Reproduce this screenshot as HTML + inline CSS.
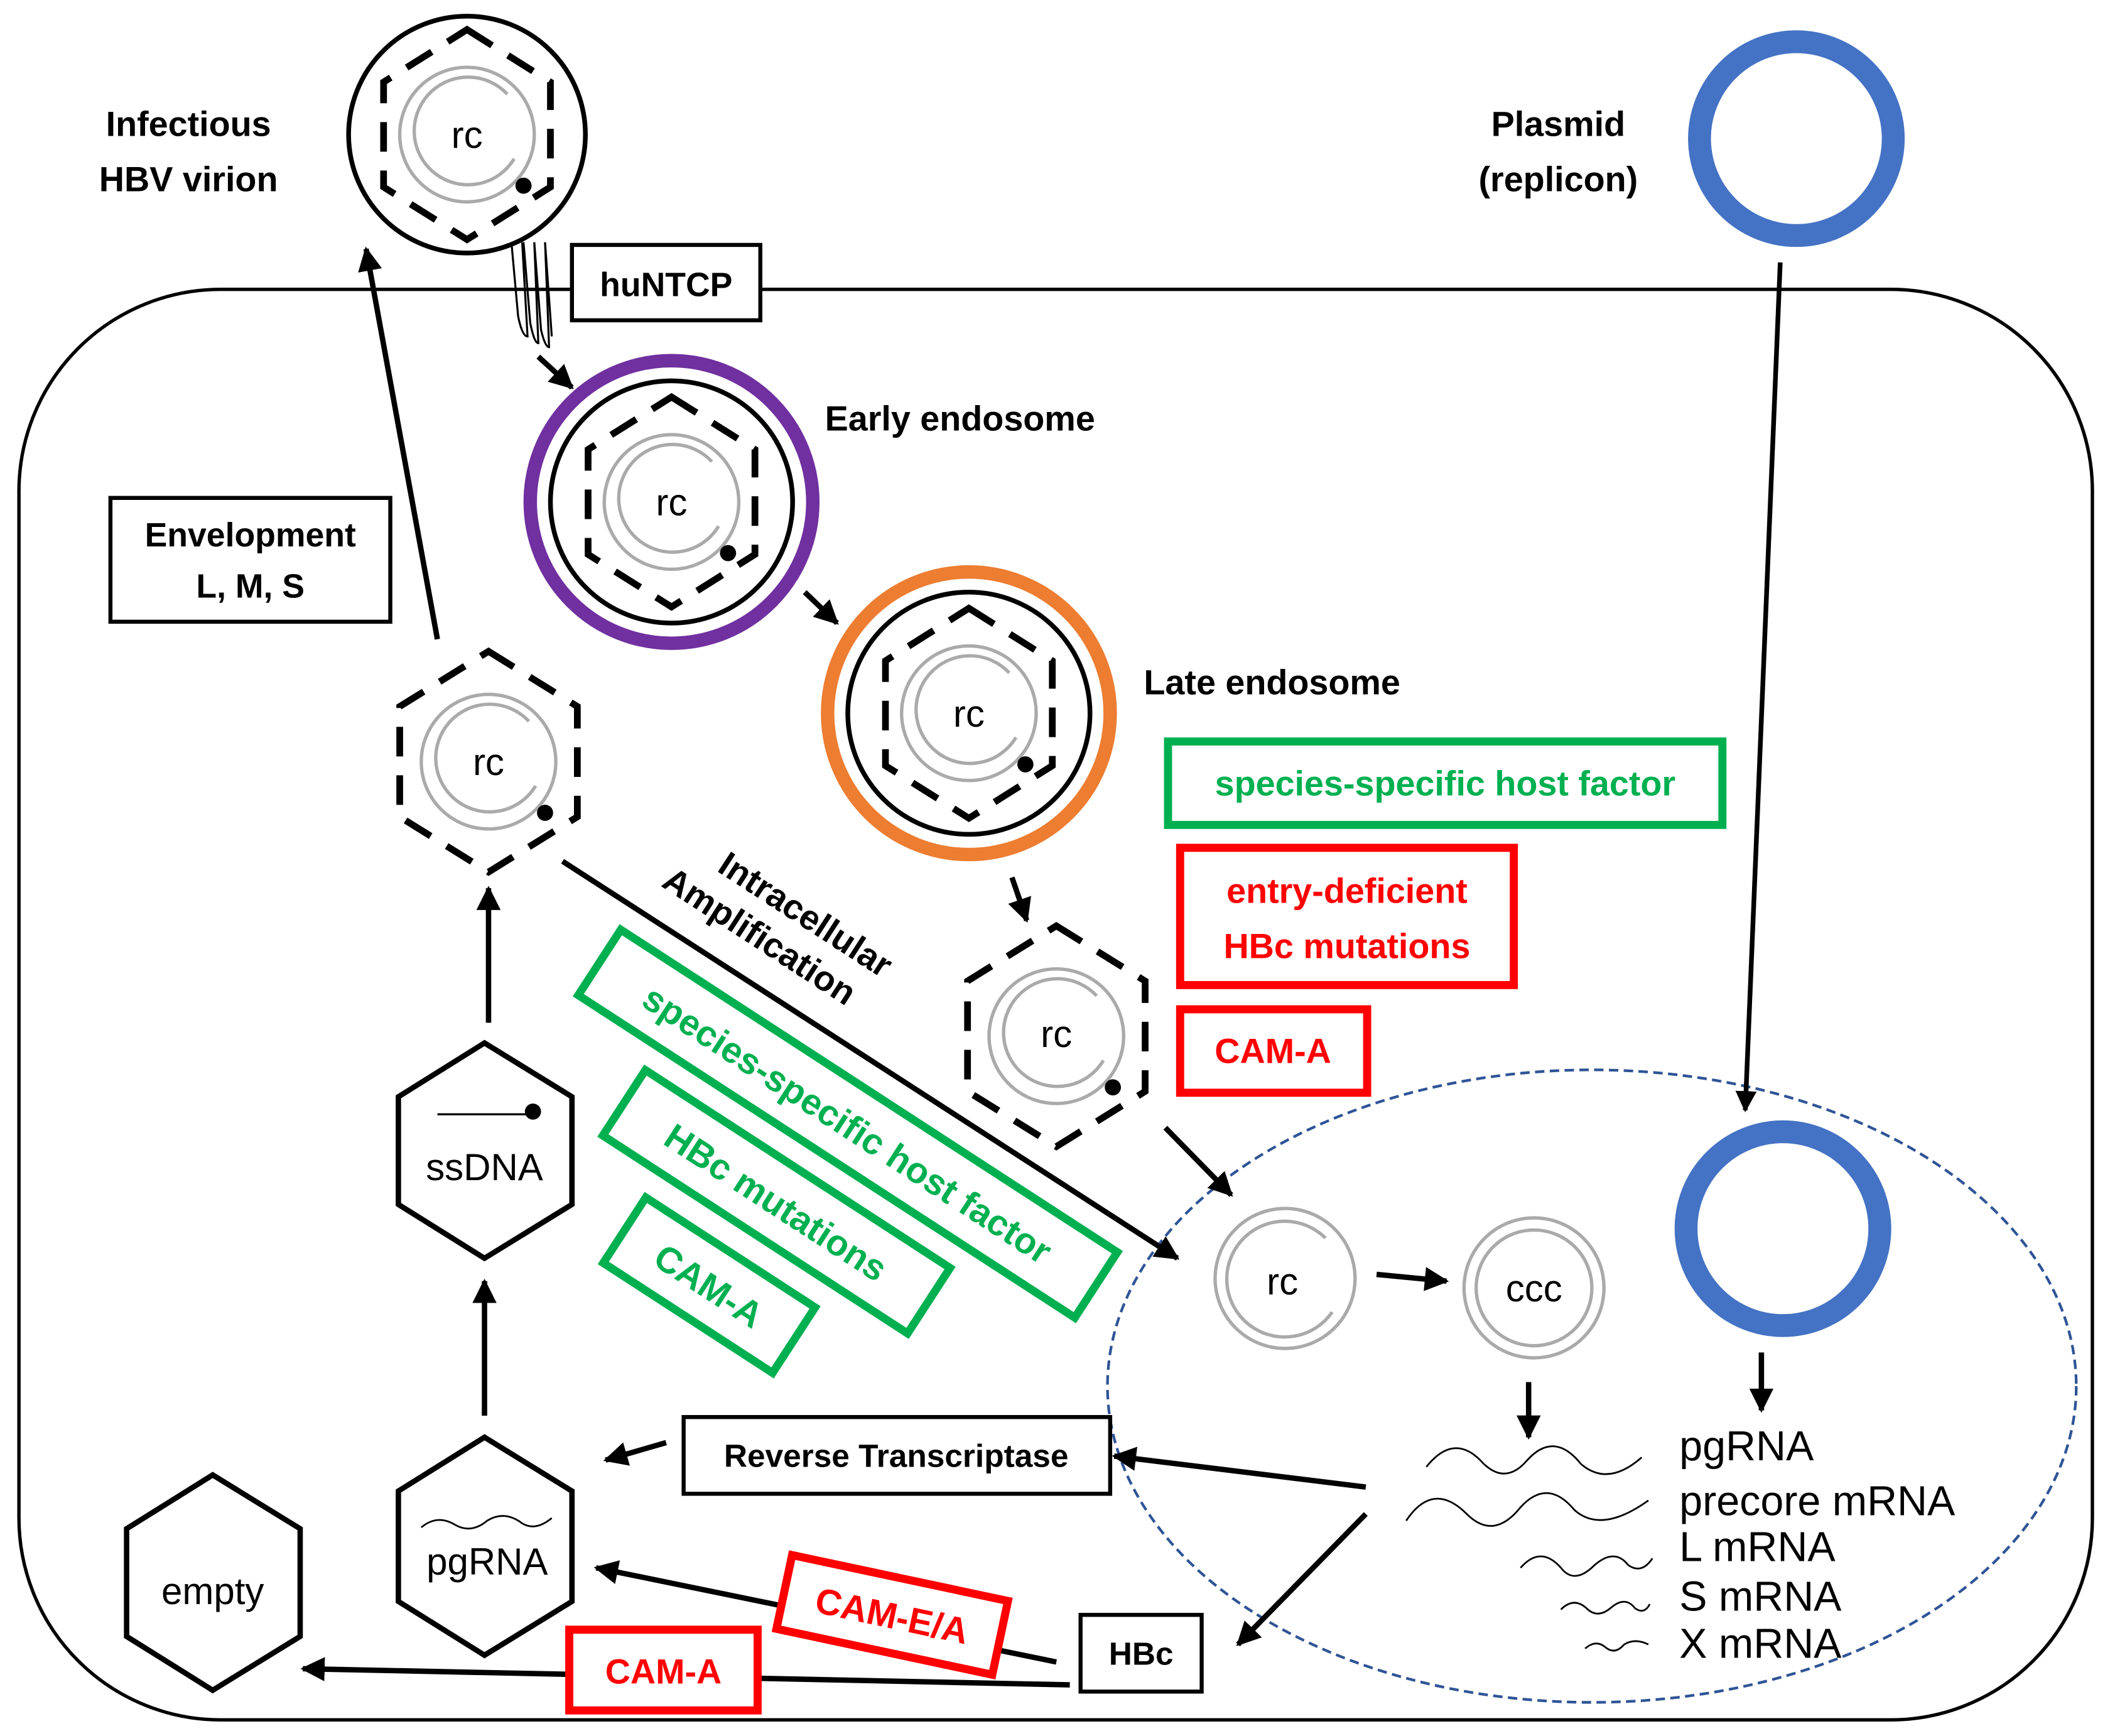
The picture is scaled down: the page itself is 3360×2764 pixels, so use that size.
<!DOCTYPE html>
<html><head><meta charset="utf-8"><style>
html,body{margin:0;padding:0;background:#fff}
svg{display:block}
text{font-family:"Liberation Sans",sans-serif}
</style></head><body>
<svg width="3360" height="2764" viewBox="0 0 1568 1290" xmlns="http://www.w3.org/2000/svg">
<defs>
<marker id="ah" viewBox="0 0 10 10" refX="9" refY="5" markerWidth="4.5" markerHeight="4.5" orient="auto-start-reverse" markerUnits="strokeWidth"><path d="M0,0 L10,5 L0,10 z" fill="#000"/></marker>
<g id="core">
<circle r="50" fill="none" stroke="#aaa" stroke-width="2.5"/>
<path d="M30,-30 A40,40 0 1 0 35,18" fill="none" stroke="#aaa" stroke-width="2.5"/>
<circle cx="42" cy="38" r="6" fill="#000"/>
</g>
<g id="cap">
<polygon points="0,-82 66,-41 66,41 0,82 -66,41 -66,-41" fill="none" stroke="#000" stroke-width="5" stroke-dasharray="22,14"/>
<use href="#core"/>
</g>
<g id="capS">
<polygon points="0,-78 62,-39 62,39 0,78 -62,39 -62,-39" fill="none" stroke="#000" stroke-width="5" stroke-dasharray="22,14"/>
<use href="#core"/>
</g>
</defs>
<rect width="1568" height="1290" fill="#fff"/>
<!-- cell -->
<rect x="14" y="215" width="1541" height="1063" rx="150" ry="150" fill="none" stroke="#000" stroke-width="2.5"/>
<!-- nucleus -->
<ellipse cx="1183" cy="1030" rx="360" ry="235" fill="none" stroke="#2F5496" stroke-width="2" stroke-dasharray="7,4"/>

<!-- virion -->
<circle cx="347" cy="100" r="88" fill="#fff" stroke="#000" stroke-width="3.5"/>
<use href="#capS" x="347" y="100"/>
<text x="347" y="110" font-size="28" text-anchor="middle">rc</text>
<text x="140" y="101" font-size="26" font-weight="bold" text-anchor="middle">Infectious</text>
<text x="140" y="142" font-size="26" font-weight="bold" text-anchor="middle">HBV virion</text>
<!-- receptor squiggles -->
<path d="M380,180 L385,235 Q388,250 392,250 L388,180 M389,180 L394,240 Q397,255 400,255 L397,180 M397,180 L402,245 Q405,258 408,258 L405,180 M405,180 L410,250" fill="none" stroke="#000" stroke-width="1.5"/>
<rect x="425" y="182" width="140" height="56" fill="#fff" stroke="#000" stroke-width="3"/>
<text x="495" y="220" font-size="25" font-weight="bold" text-anchor="middle">huNTCP</text>
<line x1="400" y1="265" x2="425" y2="288" stroke="#000" stroke-width="4" marker-end="url(#ah)"/>

<!-- plasmid -->
<text x="1158" y="101" font-size="26" font-weight="bold" text-anchor="middle">Plasmid</text>
<text x="1158" y="142" font-size="26" font-weight="bold" text-anchor="middle">(replicon)</text>
<circle cx="1335" cy="103" r="72" fill="none" stroke="#4472C4" stroke-width="17"/>
<line x1="1323" y1="195" x2="1297" y2="825" stroke="#000" stroke-width="3.5" marker-end="url(#ah)"/>
<circle cx="1325" cy="913" r="72" fill="none" stroke="#4472C4" stroke-width="17"/>
<line x1="1309" y1="1005" x2="1309" y2="1048" stroke="#000" stroke-width="4" marker-end="url(#ah)"/>

<!-- early endosome -->
<circle cx="499" cy="373" r="105" fill="none" stroke="#7030A0" stroke-width="10"/>
<circle cx="499" cy="373" r="90" fill="none" stroke="#000" stroke-width="3.5"/>
<use href="#capS" x="499" y="373"/>
<text x="499" y="383" font-size="28" text-anchor="middle">rc</text>
<text x="613" y="320" font-size="26" font-weight="bold">Early endosome</text>
<line x1="598" y1="440" x2="622" y2="463" stroke="#000" stroke-width="4" marker-end="url(#ah)"/>

<!-- late endosome -->
<circle cx="720" cy="530" r="105" fill="none" stroke="#ED7D31" stroke-width="10"/>
<circle cx="720" cy="530" r="90" fill="none" stroke="#000" stroke-width="3.5"/>
<use href="#capS" x="720" y="530"/>
<text x="720" y="540" font-size="28" text-anchor="middle">rc</text>
<text x="850" y="516" font-size="26" font-weight="bold">Late endosome</text>
<line x1="752" y1="652" x2="763" y2="684" stroke="#000" stroke-width="4" marker-end="url(#ah)"/>

<!-- released capsid -->
<use href="#cap" x="785" y="770"/>
<text x="785" y="778" font-size="28" text-anchor="middle">rc</text>
<line x1="866" y1="838" x2="915" y2="888" stroke="#000" stroke-width="4" marker-end="url(#ah)"/>

<!-- boxes right -->
<rect x="868" y="551" width="412" height="62" fill="none" stroke="#00B050" stroke-width="6"/>
<text x="1074" y="591" font-size="26" font-weight="bold" fill="#00B050" text-anchor="middle">species-specific host factor</text>
<rect x="877" y="630" width="248" height="102" fill="none" stroke="#FF0000" stroke-width="6"/>
<text x="1001" y="671" font-size="26" font-weight="bold" fill="#FF0000" text-anchor="middle">entry-deficient</text>
<text x="1001" y="712" font-size="26" font-weight="bold" fill="#FF0000" text-anchor="middle">HBc mutations</text>
<rect x="877" y="750" width="139" height="62" fill="none" stroke="#FF0000" stroke-width="6"/>
<text x="946" y="790" font-size="26" font-weight="bold" fill="#FF0000" text-anchor="middle">CAM-A</text>

<!-- nucleus contents -->
<circle cx="955" cy="950" r="52" fill="none" stroke="#aaa" stroke-width="2.5"/>
<path d="M985,920 A43,43 0 1 0 990,975" fill="none" stroke="#aaa" stroke-width="2.5"/>
<text x="953" y="962" font-size="28" text-anchor="middle">rc</text>
<line x1="1023" y1="947" x2="1075" y2="952" stroke="#000" stroke-width="4" marker-end="url(#ah)"/>
<circle cx="1140" cy="957" r="52" fill="none" stroke="#aaa" stroke-width="2.5"/>
<circle cx="1140" cy="957" r="43" fill="none" stroke="#aaa" stroke-width="2.5"/>
<text x="1140" y="967" font-size="28" text-anchor="middle">ccc</text>
<line x1="1136" y1="1027" x2="1136" y2="1068" stroke="#000" stroke-width="4" marker-end="url(#ah)"/>
<g fill="none" stroke="#000" stroke-width="1.3">
<path d="M1060,1090 Q1080,1065 1100,1085 Q1118,1105 1135,1085 Q1155,1063 1175,1088 Q1195,1105 1220,1083"/>
<path d="M1045,1130 Q1065,1100 1090,1125 Q1110,1145 1130,1120 Q1150,1098 1170,1122 Q1190,1140 1225,1115"/>
<path d="M1130,1165 Q1145,1148 1160,1165 Q1170,1178 1185,1163 Q1200,1150 1210,1163 Q1220,1170 1228,1158"/>
<path d="M1160,1196 Q1170,1186 1180,1196 Q1188,1203 1198,1194 Q1208,1186 1215,1195 Q1222,1200 1226,1192"/>
<path d="M1178,1225 Q1186,1218 1193,1224 Q1200,1230 1207,1222 Q1215,1217 1225,1222"/>
</g>
<g font-size="31">
<text x="1248" y="1085">pgRNA</text>
<text x="1248" y="1126">precore mRNA</text>
<text x="1248" y="1160">L mRNA</text>
<text x="1248" y="1197">S mRNA</text>
<text x="1248" y="1232">X mRNA</text>
</g>
<line x1="1015" y1="1105" x2="828" y2="1082" stroke="#000" stroke-width="4" marker-end="url(#ah)"/>
<line x1="1015" y1="1125" x2="920" y2="1222" stroke="#000" stroke-width="4" marker-end="url(#ah)"/>

<!-- left column -->
<use href="#cap" x="363" y="566"/>
<text x="363" y="576" font-size="28" text-anchor="middle">rc</text>
<line x1="325" y1="475" x2="272" y2="185" stroke="#000" stroke-width="4" marker-end="url(#ah)"/>
<rect x="82" y="370" width="208" height="92" fill="none" stroke="#000" stroke-width="3"/>
<text x="186" y="406" font-size="25" font-weight="bold" text-anchor="middle">Envelopment</text>
<text x="186" y="444" font-size="25" font-weight="bold" text-anchor="middle">L, M, S</text>

<line x1="363" y1="760" x2="363" y2="660" stroke="#000" stroke-width="4" marker-end="url(#ah)"/>
<polygon points="360,775 425,815 425,895 360,935 296,895 296,815" fill="#fff" stroke="#000" stroke-width="4"/>
<line x1="325" y1="828" x2="392" y2="828" stroke="#000" stroke-width="1.5"/>
<circle cx="396" cy="826" r="6" fill="#000"/>
<text x="360" y="877" font-size="28" text-anchor="middle">ssDNA</text>
<line x1="360" y1="1052" x2="360" y2="952" stroke="#000" stroke-width="4" marker-end="url(#ah)"/>
<polygon points="360,1068 425,1108 425,1190 360,1230 296,1190 296,1108" fill="#fff" stroke="#000" stroke-width="4"/>
<path d="M313,1135 Q325,1125 338,1133 Q350,1140 362,1130 Q375,1122 388,1132 Q398,1138 410,1128" fill="none" stroke="#000" stroke-width="1.3"/>
<text x="362" y="1170" font-size="28" text-anchor="middle">pgRNA</text>
<polygon points="158,1096 223,1136 223,1216 158,1256 94,1216 94,1136" fill="#fff" stroke="#000" stroke-width="4"/>
<text x="158" y="1192" font-size="28" text-anchor="middle">empty</text>

<!-- RT -->
<rect x="508" y="1053" width="317" height="57" fill="#fff" stroke="#000" stroke-width="3"/>
<text x="666" y="1090" font-size="24" font-weight="bold" text-anchor="middle">Reverse Transcriptase</text>
<line x1="495" y1="1072" x2="450" y2="1085" stroke="#000" stroke-width="4" marker-end="url(#ah)"/>

<!-- HBc -->
<line x1="785" y1="1235" x2="443" y2="1165" stroke="#000" stroke-width="4" marker-end="url(#ah)"/>
<line x1="795" y1="1252" x2="225" y2="1240" stroke="#000" stroke-width="4" marker-end="url(#ah)"/>
<rect x="803" y="1200" width="90" height="57" fill="#fff" stroke="#000" stroke-width="3"/>
<text x="848" y="1237" font-size="24" font-weight="bold" text-anchor="middle">HBc</text>
<g transform="translate(663,1200) rotate(12)">
<rect x="-82" y="-28" width="164" height="56" fill="#fff" stroke="#FF0000" stroke-width="6"/>
<text x="0" y="10" font-size="27" font-weight="bold" fill="#FF0000" text-anchor="middle">CAM-E/A</text>
</g>
<rect x="423" y="1211" width="140" height="60" fill="#fff" stroke="#FF0000" stroke-width="6"/>
<text x="493" y="1251" font-size="26" font-weight="bold" fill="#FF0000" text-anchor="middle">CAM-A</text>

<!-- intracellular amplification -->
<line x1="418" y1="640" x2="875" y2="935" stroke="#000" stroke-width="4" marker-end="url(#ah)"/>
<g transform="translate(580,690) rotate(33)" font-size="26" font-weight="bold" text-anchor="middle">
<text x="10" y="-10">Intracellular</text>
<text x="-10" y="22">Amplification</text>
</g>
<g transform="translate(630,835) rotate(33)">
<rect x="-220" y="-29" width="440" height="58" fill="#fff" stroke="#00B050" stroke-width="6"/>
<text x="0" y="10" font-size="27" font-weight="bold" fill="#00B050" text-anchor="middle">species-specific host factor</text>
</g>
<g transform="translate(577,893) rotate(33)">
<rect x="-135" y="-29" width="270" height="58" fill="#fff" stroke="#00B050" stroke-width="6"/>
<text x="0" y="10" font-size="27" font-weight="bold" fill="#00B050" text-anchor="middle">HBc mutations</text>
</g>
<g transform="translate(527,955) rotate(33)">
<rect x="-75" y="-29" width="150" height="58" fill="#fff" stroke="#00B050" stroke-width="6"/>
<text x="0" y="10" font-size="27" font-weight="bold" fill="#00B050" text-anchor="middle">CAM-A</text>
</g>
</svg>
</body></html>
